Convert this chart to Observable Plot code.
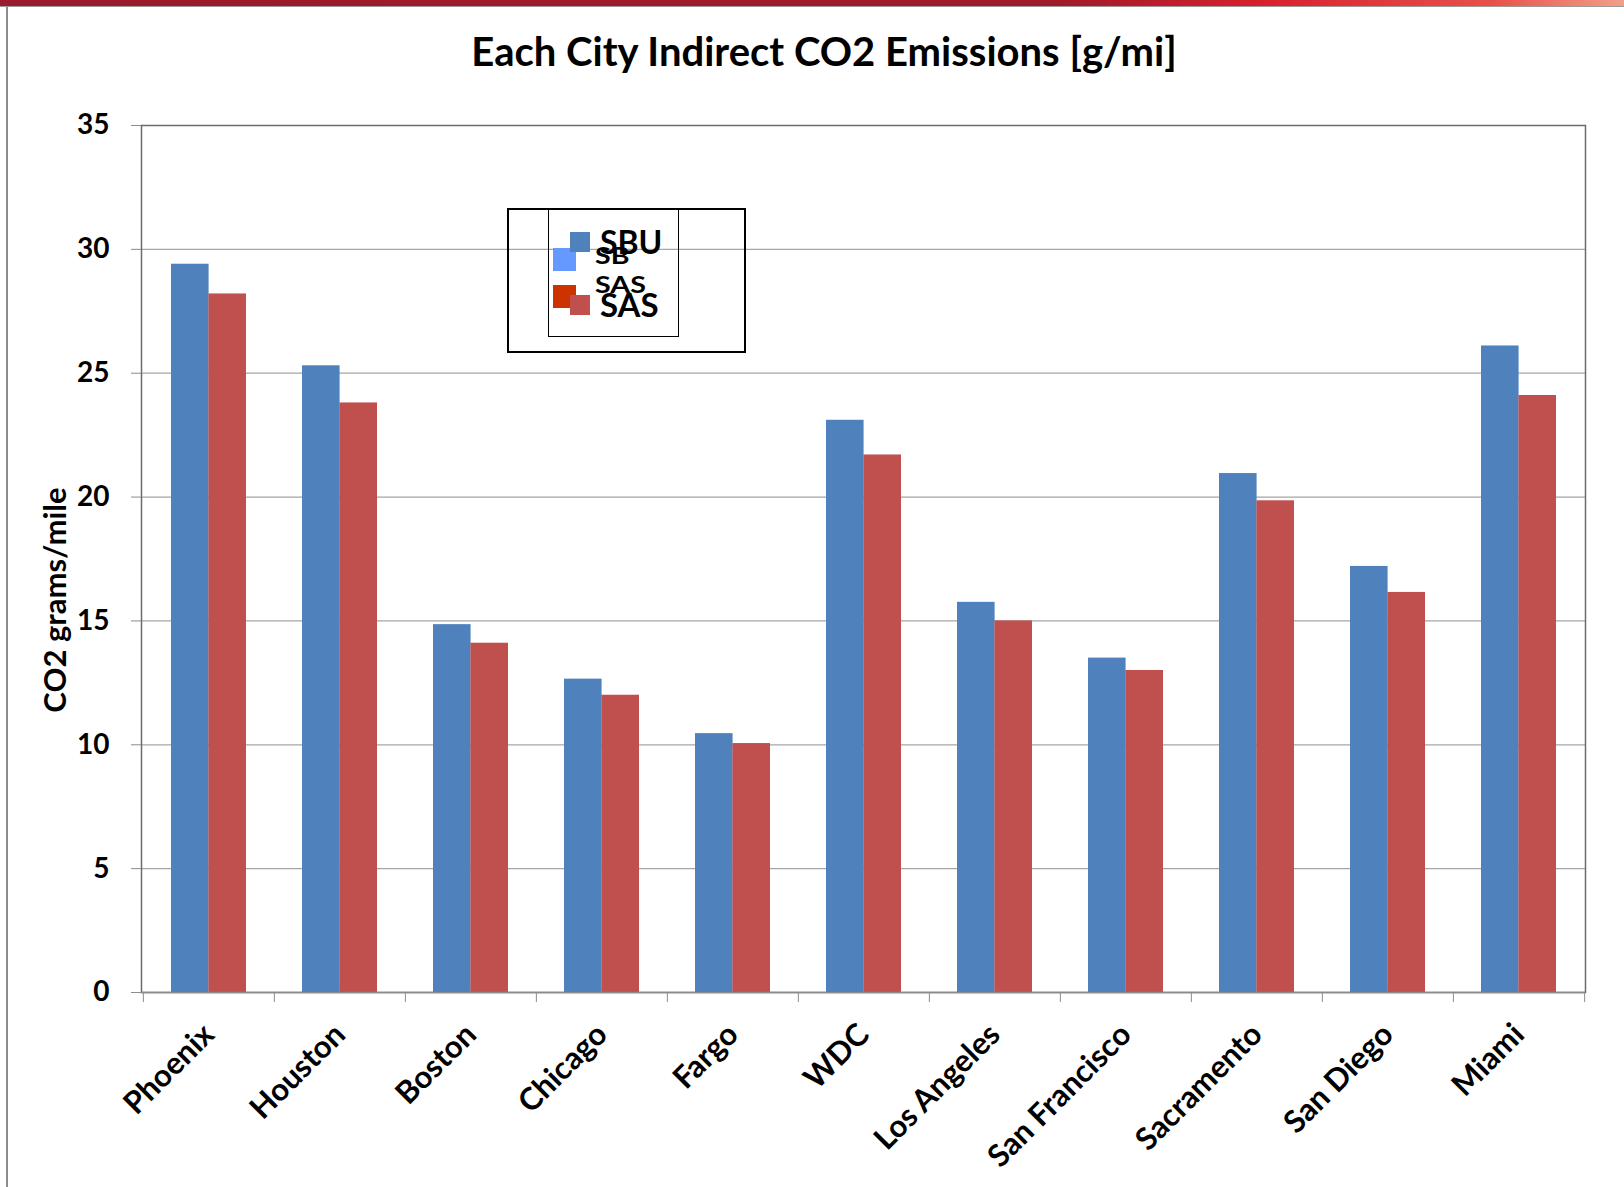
<!DOCTYPE html>
<html>
<head>
<meta charset="utf-8">
<script src="https://cdn.jsdelivr.net/npm/d3@7"></script>
<script src="https://cdn.jsdelivr.net/npm/@observablehq/plot@0.6"></script>
<style>
  html, body { margin: 0; padding: 0; background: #fff; }
  #wrap { position: relative; width: 1624px; height: 1187px; overflow: hidden; font-family: Lato, "Open Sans", sans-serif; background: #fff; }
  #topbar { position: absolute; left: 0; top: 0; width: 1624px; height: 6px;
    background: linear-gradient(to right, #9a1b2b 0%, #a01a2a 65%, #d8202e 78%, #e8524a 92%, #f2a08a 100%); }
  #topline { position: absolute; left: 0; top: 6px; width: 1624px; height: 1px; background: #9a9a9a; }
  #leftline { position: absolute; left: 6px; top: 7px; width: 2px; height: 1180px; background: #8c8c8c; }
  #title { position: absolute; left: 0; top: 27px; width: 1648px; text-align: center; font-weight: 700; font-size: 40px; line-height: 1.2; color: #000; white-space: nowrap; }
  #ytitle { position: absolute; left: 54px; top: 600px; transform: translate(-50%, -50%) rotate(-90deg); font-weight: 700; font-size: 31px; white-space: nowrap; color: #000; }
  #chart { position: absolute; left: 0; top: 0; }
  .box { position: absolute; border: 2px solid #000; box-sizing: border-box; }
  .sw { position: absolute; }
  .lt { position: absolute; font-weight: 700; color: #000; white-space: nowrap; line-height: 1; transform-origin: 0 0; }
</style>
</head>
<body>
<div id="wrap">
  <div id="chart"></div>
  <div id="topbar"></div>
  <div id="topline"></div>
  <div id="leftline"></div>
  <div id="title"></div>
  <div id="ytitle"></div>
</div>
<script>
// ---- data ----
const titleText = "Each City Indirect CO2 Emissions [g/mi]";
const yTitleText = "CO2 grams/mile";
const cities = ["Phoenix", "Houston", "Boston", "Chicago", "Fargo", "WDC", "Los Angeles", "San Francisco", "Sacramento", "San Diego", "Miami"];
const sbuValues = [29.4, 25.3, 14.85, 12.65, 10.45, 23.1, 15.75, 13.5, 20.95, 17.2, 26.1];
const sasValues = [28.2, 23.8, 14.1, 12.0, 10.05, 21.7, 15.0, 13.0, 19.85, 16.15, 24.1];
const seriesNames = ["SBU", "SAS"];
const seriesColors = ["#4F81BD", "#C0504D"];
const ghostNames = ["SB", "SAS"];
const ghostColors = ["#6699FF", "#CC3300"];
const yTicks = [0, 5, 10, 15, 20, 25, 30, 35];

// ---- layout ----
const W = 1624, H = 1187;
const mL = 141, mR = 39, mT = 125, mB = 195;
const padIn = 0.43, padOut = 0.215;
const step = (W - mL - mR) / (cities.length - padIn + 2 * padOut);
const half = step * (1 - padIn) / 2;

const rows = cities.flatMap((c, i) => [
  { city: c, series: seriesNames[0], value: sbuValues[i] },
  { city: c, series: seriesNames[1], value: sasValues[i] }
]);

document.getElementById("title").textContent = titleText;
document.getElementById("ytitle").textContent = yTitleText;

const gray = "#8c8c8c";
const chart = Plot.plot({
  width: W, height: H,
  marginLeft: mL, marginRight: mR, marginTop: mT, marginBottom: mB,
  style: { fontFamily: "Lato, 'Open Sans', sans-serif", background: "transparent", color: "#000" },
  x: { type: "band", domain: cities, paddingInner: padIn, paddingOuter: padOut, label: null, axis: null },
  y: { domain: [0, 35], label: null, axis: null },
  marks: [
    Plot.gridY(yTicks, { stroke: "#a6a6a6", strokeOpacity: 1, strokeWidth: 1.2 }),
    Plot.barY(rows.filter(d => d.series === seriesNames[0]), { x: "city", y: "value", fill: seriesColors[0], insetRight: half, insetLeft: 0 }),
    Plot.barY(rows.filter(d => d.series === seriesNames[1]), { x: "city", y: "value", fill: seriesColors[1], insetLeft: half, insetRight: 0 }),
    Plot.frame({ stroke: "#6b6b6b", strokeWidth: 1.5 }),
    Plot.ruleY([0], { stroke: gray, strokeWidth: 1.5 }),
    Plot.axisY(yTicks, { tickSize: 10, tickPadding: 22, stroke: gray, fill: "#000", fontSize: 28, fontWeight: "bold", label: null }),
    Plot.axisX(cities, { tickSize: 10, stroke: gray, fill: "none", dx: -step / 2, label: null }),
    Plot.axisX([cities[cities.length - 1]], { tickSize: 10, stroke: gray, fill: "none", dx: step / 2, label: null }),
    Plot.axisX(cities, { tickSize: 0, tickPadding: 37, tickRotate: -45, textAnchor: "end", fill: "#000", fontSize: 31, fontWeight: "bold", dx: 0, label: null })
  ]
});
document.getElementById("chart").appendChild(chart);
const wrap = document.getElementById("wrap");

// ---- legend (built from the series arrays) ----
function addBox(l, t, w, h, bw) {
  const d = document.createElement("div");
  d.className = "box"; d.style.left = l + "px"; d.style.top = t + "px";
  d.style.width = w + "px"; d.style.height = h + "px"; d.style.borderWidth = bw + "px";
  wrap.appendChild(d);
}
function addSwatch(l, t, s, color) {
  const d = document.createElement("div");
  d.className = "sw"; d.style.left = l + "px"; d.style.top = t + "px";
  d.style.width = s + "px"; d.style.height = s + "px"; d.style.background = color;
  wrap.appendChild(d);
}
function addText(l, t, size, txt, sx) {
  const d = document.createElement("div");
  d.className = "lt"; d.style.left = l + "px"; d.style.top = t + "px";
  d.style.fontSize = size + "px"; d.textContent = txt;
  if (sx) d.style.transform = "scaleX(" + sx + ")";
  wrap.appendChild(d);
}
addBox(507, 208, 239, 145, 2);
addBox(548, 209, 131, 128, 1.5);
// ghost layer
addSwatch(553, 248, 23, ghostColors[0]);
addText(595, 245, 22, ghostNames[0], 1.3);
addSwatch(553, 285, 23, ghostColors[1]);
addText(595, 274, 22, ghostNames[1], 1.3);
// main layer
addSwatch(570, 232, 20, seriesColors[0]);
addText(600, 226, 32, seriesNames[0]);
addSwatch(570, 295, 20, seriesColors[1]);
addText(600, 288, 33, seriesNames[1]);
</script>
</body>
</html>
